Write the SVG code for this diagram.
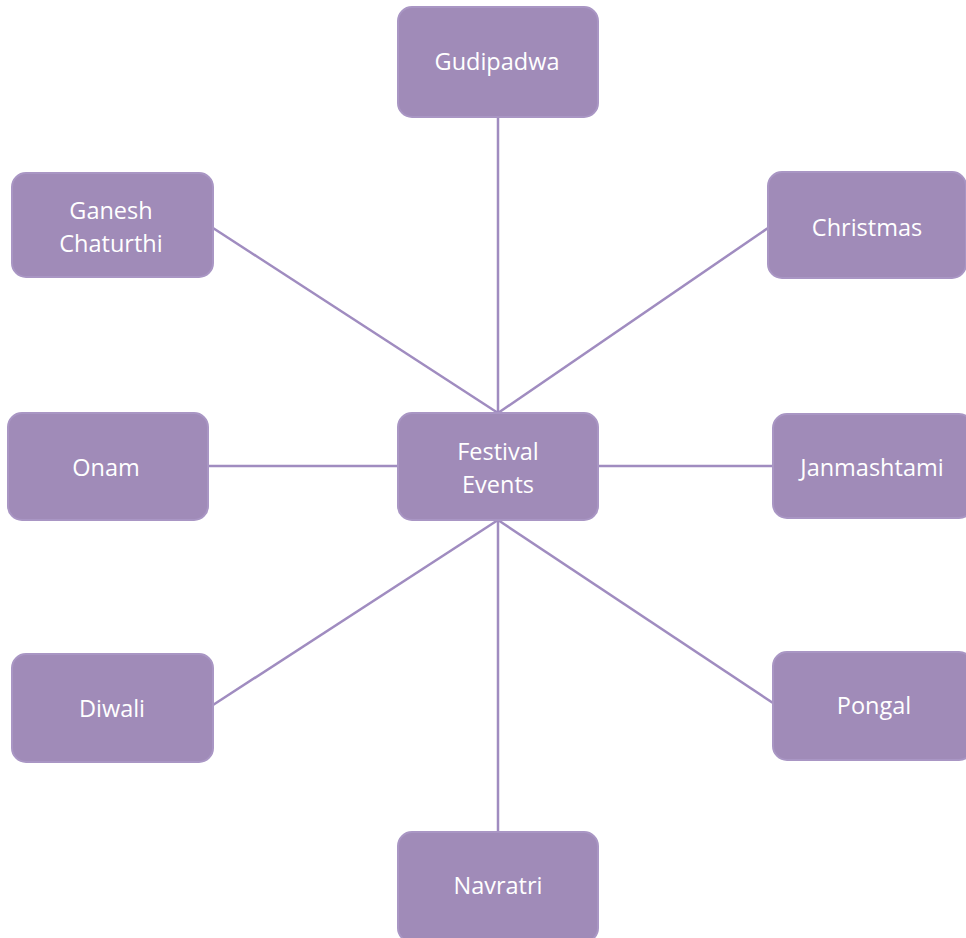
<svg xmlns="http://www.w3.org/2000/svg" width="966" height="938" viewBox="0 0 966 938">
<style>
.box{fill:#A08BB8;stroke:#A996C4;stroke-width:2}
.t{font-family:"Open Sans","Liberation Sans",sans-serif;font-size:23.5px;fill:#ffffff;text-anchor:middle}
.c{stroke:#A08CC0;stroke-width:2.5;fill:none}
</style>
<rect width="966" height="938" fill="#ffffff"/>
<g id="connectors">
<line class="c" x1="498" y1="117" x2="498" y2="413"/>
<line class="c" x1="213" y1="228" x2="498" y2="413"/>
<line class="c" x1="768" y1="228" x2="498" y2="413"/>
<line class="c" x1="208" y1="466" x2="398" y2="466"/>
<line class="c" x1="598" y1="466" x2="773" y2="466"/>
<line class="c" x1="213" y1="705" x2="498" y2="520"/>
<line class="c" x1="773" y1="703" x2="498" y2="520"/>
<line class="c" x1="498" y1="520" x2="498" y2="832"/>
</g>
<g id="gudipadwa"><rect class="box" x="398" y="7" width="200" height="110" rx="14"/><text class="t" x="497" y="70">Gudipadwa</text></g>
<g id="ganesh"><rect class="box" x="12" y="173" width="201" height="104" rx="14"/><text class="t" x="111" y="219">Ganesh</text><text class="t" x="111" y="252">Chaturthi</text></g>
<g id="christmas"><rect class="box" x="768" y="172" width="198" height="106" rx="14"/><text class="t" x="867" y="236">Christmas</text></g>
<g id="festival"><rect class="box" x="398" y="413" width="200" height="107" rx="14"/><text class="t" x="498" y="460">Festival</text><text class="t" x="498" y="493">Events</text></g>
<g id="onam"><rect class="box" x="8" y="413" width="200" height="107" rx="14"/><text class="t" x="106" y="476">Onam</text></g>
<g id="janmashtami"><rect class="box" x="773" y="414" width="200" height="104" rx="14"/><text class="t" x="872" y="476">Janmashtami</text></g>
<g id="diwali"><rect class="box" x="12" y="654" width="201" height="108" rx="14"/><text class="t" x="112" y="717">Diwali</text></g>
<g id="pongal"><rect class="box" x="773" y="652" width="200" height="108" rx="14"/><text class="t" x="874" y="714">Pongal</text></g>
<g id="navratri"><rect class="box" x="398" y="832" width="200" height="110" rx="14"/><text class="t" x="498" y="894">Navratri</text></g>
</svg>
